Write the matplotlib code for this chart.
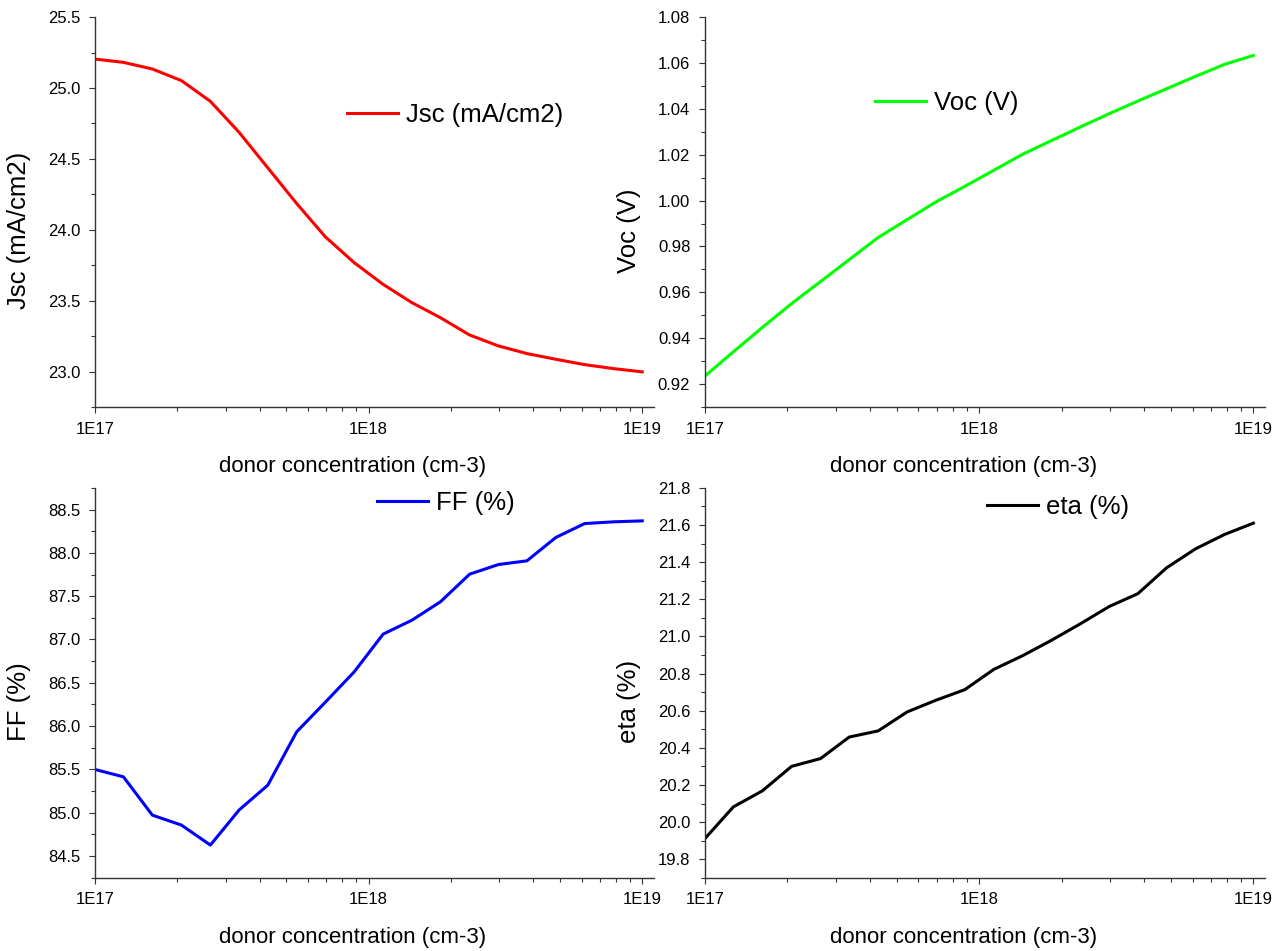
import matplotlib
matplotlib.use("Agg")
import matplotlib.pyplot as plt
from matplotlib.ticker import MultipleLocator, FormatStrFormatter, LogLocator, NullFormatter

plt.rcParams["font.family"] = ["Liberation Sans", "DejaVu Sans"]

# donor concentration (cm-3), 20 points per sweep
donor = [1.00e17, 1.27e17, 1.62e17, 2.07e17, 2.64e17, 3.36e17, 4.28e17,
         5.46e17, 6.95e17, 8.86e17, 1.13e18, 1.44e18, 1.83e18, 2.34e18,
         2.98e18, 3.79e18, 4.83e18, 6.16e18, 7.85e18, 1.00e19]

jsc = [25.204, 25.181, 25.134, 25.052, 24.906, 24.688, 24.437, 24.185,
       23.950, 23.768, 23.615, 23.486, 23.380, 23.258, 23.181, 23.127,
       23.087, 23.049, 23.021, 22.998]

voc = [0.9235, 0.9341, 0.9447, 0.9551, 0.9647, 0.9743, 0.9839, 0.9917,
       0.9994, 1.0062, 1.0132, 1.0202, 1.0261, 1.0321, 1.0379, 1.0434,
       1.0488, 1.0542, 1.0594, 1.0633]

ff = [85.500, 85.415, 84.973, 84.858, 84.627, 85.031, 85.319, 85.935,
      86.277, 86.627, 87.062, 87.223, 87.435, 87.754, 87.865, 87.908,
      88.177, 88.338, 88.358, 88.369]

eta = [19.911, 20.082, 20.168, 20.300, 20.342, 20.458, 20.491, 20.593,
       20.656, 20.713, 20.822, 20.896, 20.978, 21.068, 21.161, 21.230,
       21.370, 21.472, 21.549, 21.610]

panels = [
    # values, label, colour, ylim, major, minor, fmt, axes rect, legend anchor
    (jsc, "Jsc (mA/cm2)", "#ff0000", (22.75, 25.5), 0.5, 0.25, "%.1f",
     [0.074, 0.572, 0.435, 0.410], (0.451, 0.749)),
    (voc, "Voc (V)", "#00ff00", (0.91, 1.08), 0.02, 0.01, "%.2f",
     [0.549, 0.572, 0.436, 0.410], (0.304, 0.779)),
    (ff, "FF (%)", "#0000ff", (84.25, 88.75), 0.5, 0.25, "%.1f",
     [0.074, 0.077, 0.435, 0.410], (0.504, 0.962)),
    (eta, "eta (%)", "#000000", (19.7, 21.8), 0.2, 0.1, "%.1f",
     [0.549, 0.077, 0.436, 0.410], (0.504, 0.951)),
]

fig = plt.figure(figsize=(12.84, 9.51), dpi=100)

for values, label, colour, ylim, major, minor, fmt, rect, anchor in panels:
    ax = fig.add_axes(rect)
    ax.plot(donor, values, color=colour, linewidth=2.2, label=label)
    ax.set_xscale("log")
    ax.set_xlim(1e17, 1.1e19)
    ax.set_ylim(*ylim)

    ax.set_xticks([1e17, 1e18, 1e19], ["1E17", "1E18", "1E19"])
    ax.xaxis.set_minor_locator(LogLocator(base=10, subs=range(2, 10)))
    ax.xaxis.set_minor_formatter(NullFormatter())
    ax.yaxis.set_major_locator(MultipleLocator(major))
    ax.yaxis.set_minor_locator(MultipleLocator(minor))
    ax.yaxis.set_major_formatter(FormatStrFormatter(fmt))

    ax.tick_params(which="major", direction="out", length=4.5, width=0.8,
                   labelsize=12, color="#333333", pad=6)
    ax.tick_params(which="minor", direction="out", length=3, width=0.8,
                   color="#333333")
    for side in ("top", "right"):
        ax.spines[side].set_visible(False)
    for side in ("left", "bottom"):
        ax.spines[side].set_linewidth(1.0)
        ax.spines[side].set_color("#333333")

    ax.set_xlabel("donor concentration (cm-3)", fontsize=16)
    ax.xaxis.set_label_coords(0.462, -0.125)
    ax.set_ylabel(label, fontsize=18.5)
    ax.yaxis.set_label_coords(-0.115, 0.453)

    ax.legend(loc="center left", bbox_to_anchor=anchor, frameon=False,
              fontsize=18.5, borderpad=0, borderaxespad=0, handlelength=2.0,
              handletextpad=0.3)

fig.savefig("out.png", dpi=100)
